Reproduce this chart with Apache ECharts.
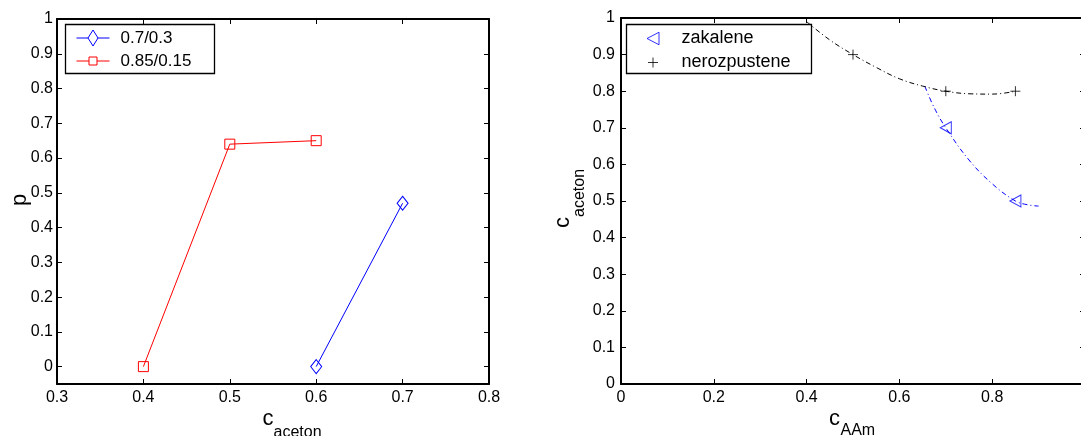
<!DOCTYPE html>
<html><head><meta charset="utf-8">
<script src="https://cdn.jsdelivr.net/npm/echarts@6/dist/echarts.min.js"></script>
<style>html,body{margin:0;padding:0;background:#fff}#c{width:1081px;height:436px}</style>
</head><body><div id="c"></div>
<script>
// ---- data ----
const leftXTicks = [0.3, 0.4, 0.5, 0.6, 0.7, 0.8];
const leftYTicks = [0, 0.1, 0.2, 0.3, 0.4, 0.5, 0.6, 0.7, 0.8, 0.9, 1];
const rightXTicks = [0, 0.2, 0.4, 0.6, 0.8, 1];
const rightYTicks = [0, 0.1, 0.2, 0.3, 0.4, 0.5, 0.6, 0.7, 0.8, 0.9, 1];
const leftLegend = ['0.7/0.3', '0.85/0.15'];
const data07 = [[0.6, 0], [0.7, 0.47]];
const data085 = [[0.4, 0], [0.5, 0.64], [0.6, 0.65]];
const rightLegend = ['zakalene', 'nerozpustene'];
const zakalene = [[0.7, 0.7], [0.85, 0.5]];
const nerozpustene = [[0.5, 0.9], [0.7, 0.8], [0.85, 0.8]];
const zakaleneFit = [[0.655, 0.813], [0.675, 0.755], [0.7, 0.7], [0.75, 0.612], [0.8, 0.547], [0.85, 0.5], [0.875, 0.49], [0.9, 0.486]];
const nerozpusteneFit = [[0.4, 0.99], [0.45, 0.94], [0.5, 0.9], [0.55, 0.865], [0.6, 0.834], [0.65, 0.814], [0.7, 0.8], [0.75, 0.793], [0.8, 0.792], [0.85, 0.8]];

const FONT = '"Liberation Sans", Arial, Helvetica, sans-serif';
const BLUE = '#0000ff', RED = '#ff0000', BLACK = '#000000';
const CLEAR = 'rgba(0,0,0,0)';

function axis(base, extra) {
  return Object.assign({
    type: 'value',
    axisLine: { show: true, onZero: false, lineStyle: { color: BLACK, width: 2 } },
    axisTick: { show: true, inside: true, length: 5, lineStyle: { color: BLACK, width: 1 } },
    axisLabel: { show: true, color: BLACK, fontSize: 16, fontFamily: FONT },
    splitLine: { show: false }
  }, base, extra || {});
}
function fmt(v) { return String(Math.round(v * 10) / 10); }

// legend icons (line + marker), bounding box forced to 33x16
const ICON_DIAMOND = 'path://M0,0M33,16M0,8L11.5,8M16.5,0L21.5,8L16.5,16L11.5,8ZM21.5,8L33,8';
const ICON_SQUARE = 'path://M0,0M33,16M0,8L12.5,8M12.5,4L20.5,4L20.5,12L12.5,12ZM20.5,8L33,8';
const ICON_TRI = 'path://M0,0M33,16M22.5,1.75L10.5,8L22.5,14.25Z';
const ICON_PLUS = 'path://M0,0M33,16M11.5,8L21.5,8M16.5,3L16.5,13';

const legendCommon = {
  orient: 'vertical', padding: 0, itemGap: 6, itemWidth: 33, itemHeight: 16,
  backgroundColor: CLEAR, borderWidth: 0, selectedMode: false,
  symbolKeepAspect: true
};

const chart = echarts.init(document.getElementById('c'), null, { renderer: 'canvas' });
chart.setOption({
  animation: false,
  backgroundColor: '#fff',
  grid: [
    { left: 57, top: 19, width: 432, height: 365, outerBoundsMode: 'none', containLabel: false },
    { left: 621, top: 18, width: 464, height: 366, outerBoundsMode: 'none', containLabel: false }
  ],
  xAxis: [
    axis({ gridIndex: 0, position: 'bottom', min: 0.3, max: 0.8, interval: 0.1 },
      { axisLabel: { color: BLACK, fontSize: 16, fontFamily: FONT, margin: 6, formatter: fmt } }),
    axis({ gridIndex: 0, position: 'top', min: 0.3, max: 0.8, interval: 0.1 }, { axisLabel: { show: false } }),
    axis({ gridIndex: 1, position: 'bottom', min: 0, max: 1, interval: 0.2 },
      { axisLabel: { color: BLACK, fontSize: 16, fontFamily: FONT, margin: 6, formatter: fmt } }),
    axis({ gridIndex: 1, position: 'top', min: 0, max: 1, interval: 0.2 }, { axisLabel: { show: false } })
  ],
  yAxis: [
    axis({ gridIndex: 0, position: 'left', min: -0.05, max: 1 }, {
      axisTick: { show: true, inside: true, length: 5, lineStyle: { color: BLACK, width: 1 }, customValues: leftYTicks },
      axisLabel: { color: BLACK, fontSize: 16, fontFamily: FONT, margin: 4, customValues: leftYTicks, formatter: fmt }
    }),
    axis({ gridIndex: 0, position: 'right', min: -0.05, max: 1 }, {
      axisTick: { show: true, inside: true, length: 5, lineStyle: { color: BLACK, width: 1 }, customValues: leftYTicks },
      axisLabel: { show: false }
    }),
    axis({ gridIndex: 1, position: 'left', min: 0, max: 1, interval: 0.1 }, {
      axisLabel: { color: BLACK, fontSize: 16, fontFamily: FONT, margin: 6, formatter: fmt }
    }),
    axis({ gridIndex: 1, position: 'right', min: 0, max: 1, interval: 0.1 }, { axisLabel: { show: false } })
  ],
  legend: [
    Object.assign({}, legendCommon, {
      left: 76, top: 29.5,
      data: [
        { name: leftLegend[0], icon: ICON_DIAMOND, itemStyle: { color: CLEAR, borderColor: BLUE, borderWidth: 1 } },
        { name: leftLegend[1], icon: ICON_SQUARE, itemStyle: { color: CLEAR, borderColor: RED, borderWidth: 1 } }
      ],
      textStyle: { color: BLACK, fontSize: 17, fontFamily: FONT, lineHeight: 17,
        rich: { t: { fontSize: 17, fontFamily: FONT, color: BLACK, padding: [0, 0, 0, 6] } } },
      formatter: '{t|{name}}'
    }),
    Object.assign({}, legendCommon, {
      left: 636, top: 29.5,
      data: [
        { name: rightLegend[0], icon: ICON_TRI, itemStyle: { color: CLEAR, borderColor: BLUE, borderWidth: 1 } },
        { name: rightLegend[1], icon: ICON_PLUS, itemStyle: { color: CLEAR, borderColor: BLACK, borderWidth: 1 } }
      ],
      textStyle: { color: BLACK, fontSize: 18, fontFamily: FONT, lineHeight: 17,
        rich: { t: { fontSize: 18, fontFamily: FONT, color: BLACK, padding: [0, 0, 0, 7] } } },
      formatter: '{t|{name}}'
    })
  ],
  series: [
    {
      type: 'line', name: leftLegend[0], xAxisIndex: 0, yAxisIndex: 0, data: data07,
      symbol: 'diamond', symbolSize: [11, 14],
      lineStyle: { color: BLUE, width: 1 },
      itemStyle: { color: CLEAR, borderColor: BLUE, borderWidth: 1 }
    },
    {
      type: 'line', name: leftLegend[1], xAxisIndex: 0, yAxisIndex: 0, data: data085,
      symbol: 'rect', symbolSize: [10, 10],
      lineStyle: { color: RED, width: 1 },
      itemStyle: { color: CLEAR, borderColor: RED, borderWidth: 1 }
    },
    {
      type: 'line', name: 'fitZ', xAxisIndex: 2, yAxisIndex: 2, data: zakaleneFit,
      showSymbol: false, symbol: 'none', smooth: 0.4, silent: true,
      lineStyle: { color: BLUE, width: 1, type: [5, 3, 1, 3] }
    },
    {
      type: 'line', name: 'fitN', xAxisIndex: 2, yAxisIndex: 2, data: nerozpusteneFit,
      showSymbol: false, symbol: 'none', smooth: 0.4, silent: true,
      lineStyle: { color: BLACK, width: 1, type: [5, 3, 1, 3] }
    },
    {
      type: 'scatter', name: rightLegend[0], xAxisIndex: 2, yAxisIndex: 2, data: zakalene,
      symbol: 'path://M1,0 L0,0.5 L1,1 Z', symbolSize: [11, 12],
      itemStyle: { color: CLEAR, borderColor: BLUE, borderWidth: 1 }
    },
    {
      type: 'scatter', name: rightLegend[1], xAxisIndex: 2, yAxisIndex: 2, data: nerozpustene,
      symbol: 'path://M0,0.5 L1,0.5 M0.5,0 L0.5,1', symbolSize: [10, 10],
      itemStyle: { color: CLEAR, borderColor: BLACK, borderWidth: 1 }
    }
  ],
  graphic: [
    // legend frames
    { type: 'rect', z: 3, shape: { x: 65.5, y: 24.5, width: 149, height: 49 }, style: { fill: '#fff', stroke: BLACK, lineWidth: 1.3 } },
    { type: 'rect', z: 3, shape: { x: 626.5, y: 24.5, width: 185, height: 49 }, style: { fill: '#fff', stroke: BLACK, lineWidth: 1.3 } },
    // axis titles
    { type: 'text', x: 262.5, y: 418.5, style: { text: 'c', font: '22px ' + FONT, fill: BLACK, align: 'left', verticalAlign: 'middle' } },
    { type: 'text', x: 273.5, y: 433, style: { text: 'aceton', font: '16px ' + FONT, fill: BLACK, align: 'left', verticalAlign: 'middle' } },
    { type: 'text', x: 829, y: 418.5, style: { text: 'c', font: '22px ' + FONT, fill: BLACK, align: 'left', verticalAlign: 'middle' } },
    { type: 'text', x: 840.5, y: 431, style: { text: 'AAm', font: '16px ' + FONT, fill: BLACK, align: 'left', verticalAlign: 'middle' } },
    { type: 'text', x: 19.5, y: 200, rotation: Math.PI / 2, style: { text: 'p', font: '22px ' + FONT, fill: BLACK, align: 'center', verticalAlign: 'middle' } },
    { type: 'text', x: 563, y: 228, rotation: Math.PI / 2, style: { text: 'c', font: '22px ' + FONT, fill: BLACK, align: 'left', verticalAlign: 'middle' } },
    { type: 'text', x: 580, y: 217, rotation: Math.PI / 2, style: { text: 'aceton', font: '16px ' + FONT, fill: BLACK, align: 'left', verticalAlign: 'middle' } }
  ]
});
</script></body></html>
